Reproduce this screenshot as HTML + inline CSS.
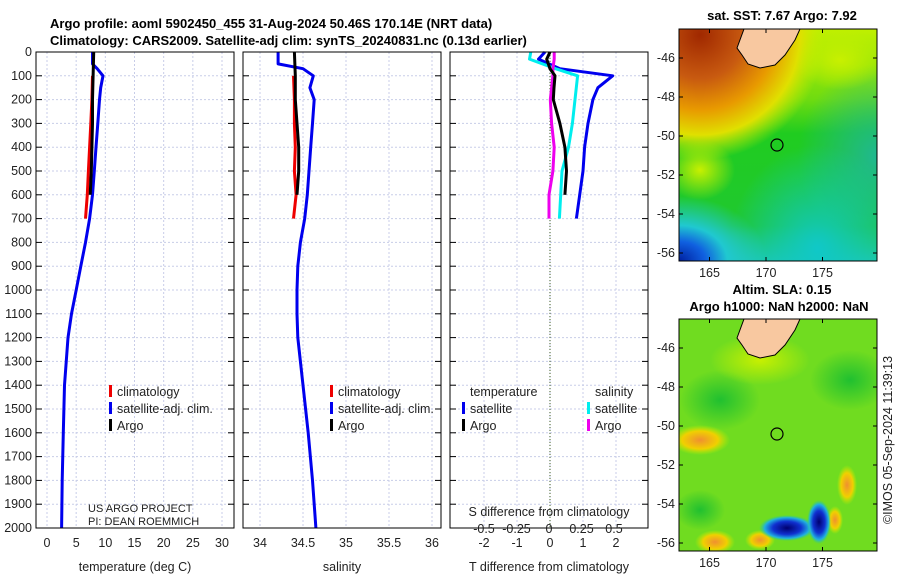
<!DOCTYPE html>
<html><head><meta charset="utf-8"><style>
body{margin:0;background:#fff;}
svg{display:block;font-family:"Liberation Sans","DejaVu Sans",sans-serif;}
.t{font-size:12.5px;fill:#222;}
.b{font-weight:bold;font-size:13px;fill:#000;}
</style></head><body>
<svg id="s" width="900" height="580" viewBox="0 0 900 580" xmlns="http://www.w3.org/2000/svg">
<defs>
<radialGradient id="orng" gradientUnits="userSpaceOnUse" cx="700" cy="35" r="125"><stop offset="0" stop-color="#a02800"/><stop offset="0.35" stop-color="#c85a10"/><stop offset="0.6" stop-color="#e89a00"/><stop offset="0.8" stop-color="#e0e000"/><stop offset="1" stop-color="#c0f000" stop-opacity="0"/></radialGradient>
<linearGradient id="topbg" x1="0" y1="0" x2="0" y2="1"><stop offset="0" stop-color="#c0f000"/><stop offset="0.3" stop-color="#70dc10"/><stop offset="0.45" stop-color="#20cc20"/><stop offset="0.85" stop-color="#20c830"/><stop offset="1" stop-color="#20c8a0"/></linearGradient>
<radialGradient id="blu" cx="0" cy="1" r="0.8"><stop offset="0" stop-color="#0020a0"/><stop offset="0.3" stop-color="#1060e0"/><stop offset="0.55" stop-color="#20c8d0"/><stop offset="1" stop-color="#20c8d0" stop-opacity="0"/></radialGradient>
<radialGradient id="cyn" cx="0.7" cy="0.95" r="0.45"><stop offset="0" stop-color="#10c8c8"/><stop offset="1" stop-color="#10c8c8" stop-opacity="0"/></radialGradient>
<radialGradient id="tealr" cx="1" cy="0.55" r="0.4"><stop offset="0" stop-color="#20b890"/><stop offset="1" stop-color="#20b890" stop-opacity="0"/></radialGradient>
<radialGradient id="dkb" cx="0.5" cy="0.5" r="0.5"><stop offset="0" stop-color="#000070"/><stop offset="0.5" stop-color="#1030d0"/><stop offset="0.8" stop-color="#20b0e0"/><stop offset="1" stop-color="#30d080" stop-opacity="0"/></radialGradient>
<radialGradient id="org" cx="0.5" cy="0.5" r="0.5"><stop offset="0" stop-color="#f09030"/><stop offset="0.6" stop-color="#f0d000"/><stop offset="1" stop-color="#c0f000" stop-opacity="0"/></radialGradient>
<radialGradient id="ylw" cx="0.5" cy="0.5" r="0.5"><stop offset="0" stop-color="#c8f000"/><stop offset="1" stop-color="#c8f000" stop-opacity="0"/></radialGradient>
<radialGradient id="grn" cx="0.5" cy="0.5" r="0.5"><stop offset="0" stop-color="#20c030"/><stop offset="1" stop-color="#20c030" stop-opacity="0"/></radialGradient>
<clipPath id="c1"><rect x="679" y="29" width="198" height="232"/></clipPath>
<clipPath id="c2"><rect x="679" y="319" width="198" height="232"/></clipPath>
</defs>
<text class="b" x="50" y="28">Argo profile: aoml 5902450_455 31-Aug-2024 50.46S 170.14E (NRT data)</text>
<text class="b" x="50" y="45">Climatology: CARS2009. Satellite-adj clim: synTS_20240831.nc (0.13d earlier)</text>
<g id="panels"></g>
<g clip-path="url(#c1)">
<rect x="679" y="29" width="198" height="232" fill="url(#topbg)"/>
<rect x="679" y="29" width="198" height="232" fill="url(#tealr)"/>
<rect x="679" y="29" width="198" height="232" fill="url(#cyn)"/>
<rect x="679" y="29" width="198" height="232" fill="url(#orng)"/>
<ellipse cx="700" cy="170" rx="35" ry="30" fill="url(#ylw)"/>
<ellipse cx="840" cy="60" rx="45" ry="30" fill="url(#ylw)"/>
<rect x="679" y="180" width="110" height="81" fill="url(#blu)"/>
<path d="M744 29 L800 29 L795 40 L785 55 L775 65 L760 68 L748 64 L742 55 L737 48 Z" fill="#f8c8a0" stroke="#000" stroke-width="1"/>
<circle cx="777" cy="145" r="6" fill="none" stroke="#000" stroke-width="1.2"/>
</g>
<rect x="679" y="29" width="198" height="232" fill="none" stroke="#000"/>
<g clip-path="url(#c2)">
<rect x="679" y="319" width="198" height="232" fill="#70dc20"/>
<ellipse cx="720" cy="400" rx="40" ry="30" fill="url(#grn)"/>
<ellipse cx="850" cy="380" rx="40" ry="30" fill="url(#grn)"/>
<ellipse cx="700" cy="510" rx="25" ry="20" fill="url(#grn)"/>
<ellipse cx="760" cy="360" rx="50" ry="25" fill="url(#ylw)"/>
<ellipse cx="700" cy="440" rx="30" ry="15" fill="url(#org)"/>
<ellipse cx="847" cy="485" rx="10" ry="20" fill="url(#org)"/>
<ellipse cx="835" cy="520" rx="8" ry="14" fill="url(#org)"/>
<ellipse cx="715" cy="542" rx="20" ry="12" fill="url(#org)"/>
<ellipse cx="760" cy="540" rx="15" ry="10" fill="url(#org)"/>
<ellipse cx="787" cy="528" rx="28" ry="13" fill="url(#dkb)"/>
<ellipse cx="819" cy="522" rx="12" ry="22" fill="url(#dkb)"/>
<path d="M744 319 L800 319 L795 330 L785 345 L775 355 L760 358 L748 354 L742 345 L737 338 Z" fill="#f8c8a0" stroke="#000" stroke-width="1"/>
<circle cx="777" cy="434" r="6" fill="none" stroke="#000" stroke-width="1.2"/>
</g>
<rect x="679" y="319" width="198" height="232" fill="none" stroke="#000"/>
<text class="b" x="782" y="20" text-anchor="middle">sat. SST: 7.67 Argo: 7.92</text>
<text class="b" x="782" y="294" text-anchor="middle">Altim. SLA: 0.15</text>
<text class="b" x="779" y="311" text-anchor="middle">Argo h1000: NaN h2000: NaN</text>
<text class="t" transform="translate(892,440) rotate(-90)" text-anchor="middle">©IMOS 05-Sep-2024 11:39:13</text>
<g id="maps"></g>
</svg>
<script>
// Temperature panel data
const depthTArgo=[0,100,200,300,400,500,600];
const tempArgo=[8.0,7.9,7.8,7.8,7.7,7.6,7.4];
const depthTClim=[100,200,300,400,500,600,700];
const tempClim=[7.8,7.7,7.5,7.3,7.1,6.9,6.6];
const depthSat=[0,50,70,100,150,200,300,400,500,600,700,800,900,1000,1100,1200,1400,1600,1800,2000];
const tempSat=[7.8,7.8,8.6,9.6,9.2,9.0,8.7,8.4,8.1,7.8,7.3,6.6,5.8,5.0,4.2,3.6,3.0,2.8,2.6,2.5];
// Salinity panel data
const salArgo=[34.40,34.41,34.41,34.43,34.45,34.45,34.43];
const salClim=[34.39,34.40,34.40,34.41,34.40,34.42,34.39];
const salSat=[34.21,34.21,34.50,34.62,34.58,34.63,34.61,34.59,34.57,34.55,34.52,34.47,34.44,34.43,34.43,34.44,34.50,34.56,34.61,34.65];
// Difference panel data
const depthDiff=[0,30,70,100,150,200,300,400,500,600,700];
const dTSat=[-0.15,-0.35,0.3,1.9,1.45,1.3,1.15,1.05,1.0,0.9,0.8];
const dTArgo=[0,-0.1,0,0.15,0.12,0.1,0.3,0.45,0.5,0.45];
const dSSat=[-0.14,-0.15,0.05,0.22,0.21,0.2,0.18,0.15,0.1,0.09,0.08];
const dSArgo=[0.04,0.04,0.03,0.03,0.02,0.01,0.02,0.04,0.03,0,0];
const depthTicks=[0,100,200,300,400,500,600,700,800,900,1000,1100,1200,1300,1400,1500,1600,1700,1800,1900,2000];
const tTicks=[0,5,10,15,20,25,30];
const sTicks=[34,34.5,35,35.5,36];
const dTTicks=[-2,-1,0,1,2];
const dSTicks=[-0.5,-0.25,0,0.25,0.5];
const lonTicks=[165,170,175];
const latTicks=[-46,-48,-50,-52,-54,-56];

const NS='http://www.w3.org/2000/svg';
const P=document.getElementById('panels');
function el(t,a,p){const e=document.createElementNS(NS,t);for(const k in a)e.setAttribute(k,a[k]);(p||P).appendChild(e);return e;}
const Y0=52,Y1=528;
const yD=d=>Y0+d*(Y1-Y0)/2000;
function panel(x0,x1,name){
  const g=el('g',{});
  
  
  return g;
}
function grid(g,x0,x1,xs,fx){
  depthTicks.forEach(d=>{const l=el('line',{x1:x0,x2:x1,y1:yD(d),y2:yD(d),stroke:'#c8cde8','stroke-dasharray':'2,2','stroke-width':1},g);
    
    el('line',{x1:x0,x2:x0+6,y1:yD(d),y2:yD(d),stroke:'#000'},g);el('line',{x1:x1-6,x2:x1,y1:yD(d),y2:yD(d),stroke:'#000'},g);});
  xs.forEach(v=>{const l=el('line',{x1:fx(v),x2:fx(v),y1:Y0,y2:Y1,stroke:'#c8cde8','stroke-dasharray':'2,2'},g);
    });
}
function frame(g,x0,x1){const r=el('rect',{x:x0,y:Y0,width:x1-x0,height:Y1-Y0,fill:'none',stroke:'#000'},g);
  }
function line(g,xs,ds,fx,col,name){
  const pts=xs.map((v,i)=>fx(v).toFixed(1)+','+yD(ds[i]).toFixed(1)).join(' ');
  const l=el('polyline',{points:pts,fill:'none',stroke:col,'stroke-width':3,'stroke-linejoin':'round'},g);
  
}
function txt(g,x,y,s,anchor,name){const t=el('text',{x:x,y:y,class:'t','text-anchor':anchor||'start'},g);t.textContent=s;
  return t;}
function legend(g,x,y,items){items.forEach((it,i)=>{el('rect',{x:x,y:y+i*17-6,width:3,height:12,fill:it[0]},g);txt(g,x+8,y+i*17+5,it[1],'start','legend-entry');});}

const fT=v=>47+v*(222-47)/30;
let g=panel(36,234,'temperature-panel');
grid(g,36,234,tTicks,fT);
line(g,tempSat,depthSat,fT,'#0000ee','satellite-temp-line');
line(g,tempClim,depthTClim,fT,'#ee0000','climatology-temp-line');
line(g,tempArgo,depthTArgo,fT,'#000','argo-temp-line');
frame(g,36,234);
depthTicks.forEach(d=>txt(g,32,yD(d)+4,String(d),'end','depth-tick-label'));
tTicks.forEach(v=>txt(g,fT(v),547,String(v),'middle','x-tick-label'));
txt(g,135,571,'temperature (deg C)','middle','x-axis-title');
legend(g,109,391,[['#ee0000','climatology'],['#0000ee','satellite-adj. clim.'],['#000','Argo']]);
txt(g,88,512,'US ARGO PROJECT','start','project-label').style.fontSize='11px';
txt(g,88,525,'PI: DEAN ROEMMICH','start','pi-label').style.fontSize='11px';

const fS=v=>260+(v-34)*(432-260)/2;
g=panel(243,441,'salinity-panel');
grid(g,243,441,sTicks,fS);
line(g,salSat,depthSat,fS,'#0000ee','satellite-sal-line');
line(g,salClim,depthTClim,fS,'#ee0000','climatology-sal-line');
line(g,salArgo,depthTArgo,fS,'#000','argo-sal-line');
frame(g,243,441);
sTicks.forEach(v=>txt(g,fS(v),547,String(v),'middle','x-tick-label'));
txt(g,342,571,'salinity','middle','x-axis-title');
legend(g,330,391,[['#ee0000','climatology'],['#0000ee','satellite-adj. clim.'],['#000','Argo']]);

const fdT=v=>550+v*33;
const fdS=v=>549+v*130;
g=panel(450,648,'difference-panel');
grid(g,450,648,dTTicks,fdT);
el('line',{x1:550,x2:550,y1:Y0,y2:Y1,stroke:'#406020','stroke-dasharray':'1,2'},g);
line(g,dTSat,depthDiff,fdT,'#0000ee','satellite-temp-diff-line');
line(g,dSSat,depthDiff,fdS,'#00eeee','satellite-sal-diff-line');
line(g,dSArgo,depthDiff,fdS,'#ee00ee','argo-sal-diff-line');
line(g,dTArgo,depthDiff.slice(0,dTArgo.length),fdT,'#000','argo-temp-diff-line');
frame(g,450,648);
dTTicks.forEach(v=>txt(g,fdT(v),547,String(v),'middle','x-tick-label'));
dSTicks.forEach(v=>txt(g,fdS(v),533,String(v),'middle','s-tick-label'));
txt(g,549,516,'S difference from climatology','middle','s-axis-title');
txt(g,549,571,'T difference from climatology','middle','x-axis-title');
txt(g,470,396,'temperature','start','legend-title');
txt(g,595,396,'salinity','start','legend-title');
legend(g,462,408,[['#0000ee','satellite'],['#000','Argo']]);
legend(g,587,408,[['#00eeee','satellite'],['#ee00ee','Argo']]);

const M=document.getElementById('maps');
const fLon=v=>679+(v-162.3)*11.3;
[[29,261,58,253],[319,551,348,543]].forEach(([t,b,la0,la1],k)=>{
  lonTicks.forEach(v=>{el('line',{x1:fLon(v),x2:fLon(v),y1:b,y2:b-4,stroke:'#000'},M);el('line',{x1:fLon(v),x2:fLon(v),y1:t,y2:t+4,stroke:'#000'},M);
    txt(M,fLon(v),b+16,String(v),'middle','lon-tick-label');});
  latTicks.forEach(v=>{const y=la0+(v+46)/(-10)*(la1-la0);
    el('line',{x1:873,x2:877,y1:y,y2:y,stroke:'#000'},M);
    el('line',{x1:679,x2:683,y1:y,y2:y,stroke:'#000'},M);
    txt(M,675,y+4,String(v),'end','lat-tick-label');});
});
</script>
</body></html>
